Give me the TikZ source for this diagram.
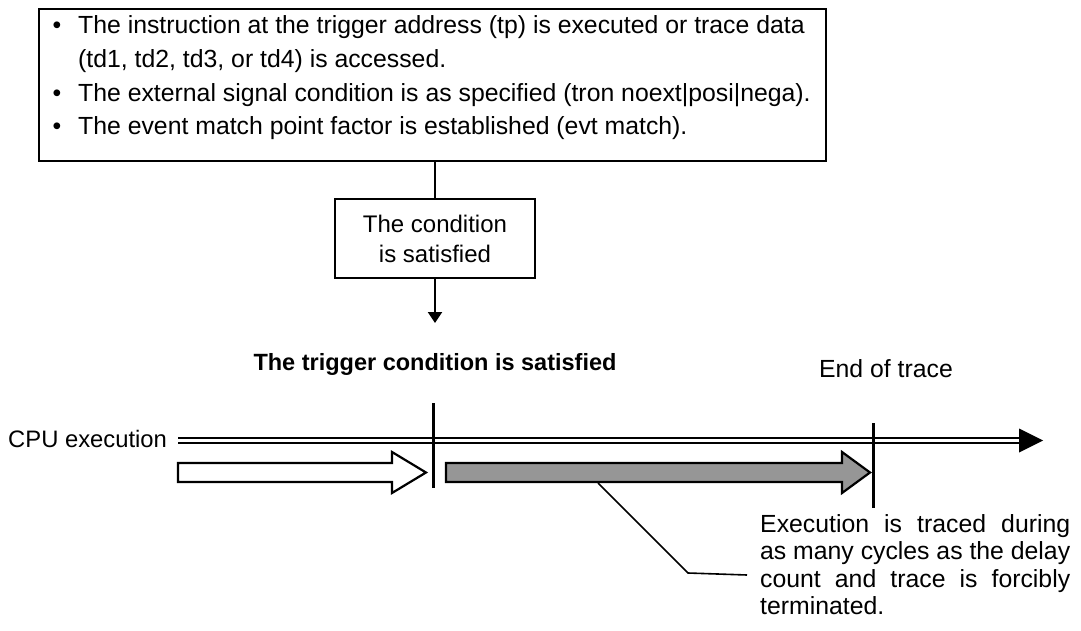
\documentclass[tikz,border=0pt]{standalone}
\usepackage{fontspec}
\setmainfont{Liberation Sans}
\usetikzlibrary{calc,arrows.meta}
\begin{document}
\begin{tikzpicture}[x=1pt,y=-1pt,
  frame/.style={draw,line width=2pt},
  bar/.style={line width=3pt},
  blockarrow/.style={draw,line width=2.2pt,line join=miter},
  txt/.style={inner sep=0pt,anchor=base west,font=\fontsize{24.8}{30}\selectfont},
  dot/.style={inner sep=0pt,anchor=base,font=\fontsize{24.8}{30}\selectfont},
]
\useasboundingbox (0,0) rectangle (1081,631);

% conditions box
\node[frame,anchor=north west,minimum width=787pt,minimum height=152pt,inner sep=0pt] (conds) at (38,8) {};
\node[dot] (b1) at (57,34) {\textbullet};
\node[txt] (c1) at (78,34) {The instruction at the trigger address (tp) is executed or trace data};
\node[txt] (c1b) at (78,68) {(td1, td2, td3, or td4) is accessed.};
\node[dot] (b2) at (57,102) {\textbullet};
\node[txt] (c2) at (78,102) {The external signal condition is as specified (tron noext|posi|nega).};
\node[dot] (b3) at (57,135) {\textbullet};
\node[txt] (c3) at (78,135) {The event match point factor is established (evt match).};

% "condition satisfied" box
\node[frame,minimum width=200pt,minimum height=79pt,align=center,inner sep=0pt,
      font=\fontsize{24}{30}\selectfont] (sat) at (435,238.5) {The condition\\is satisfied};
\draw[line width=2pt] (sat.north) -- (sat.north |- conds.south);
\coordinate (tip) at (435,323);
\draw[line width=2pt,-{Triangle[width=14pt,length=11pt]}] (sat.south) -- (tip);

% titles
\node[inner sep=0pt,anchor=base,font=\bfseries\fontsize{23.5}{29}\selectfont] (trig) at (435,370) {The trigger condition is satisfied};
\node[txt,anchor=base] (endtr) at (886,377) {End of trace};
\node[txt,font=\fontsize{23.8}{29}\selectfont] (cpu) at (8,447) {CPU execution};

% time axis
\coordinate (axs) at (178,440.5);
\coordinate (axe) at (1019,440.5);
\coordinate (axt) at (1043,440.5);
\draw[double,line width=2.6pt,double distance=2.4pt] (axs) -- (axe);
\fill (axe) ++(0,-12) -- (axt) -- ($(axe)+(0,12)$) -- cycle;

% trigger and end markers
\coordinate (m1t) at (433,403); \coordinate (m1b) at (433,488);
\coordinate (m2t) at (873,423); \coordinate (m2b) at (873,508);
\draw[bar] (m1t) -- (m1b);
\draw[bar] (m2t) -- (m2b);

% execution before trigger
\draw[blockarrow,fill=white] (178,463) -- (392,463) -- (392,452) -- (426,472.5)
  -- (392,493) -- (392,482) -- (178,482) -- cycle;
% traced execution after trigger
\draw[blockarrow,fill=black!41] (446,463) -- (842,463) -- (842,452) -- (870,472.5)
  -- (842,493) -- (842,482) -- (446,482) -- cycle;

% note with its leader
\coordinate (lead0) at (598,483);
\coordinate (lead1) at (688,573);
\coordinate (lead2) at (747,575);
\draw[line width=1.6pt] (lead0) -- (lead1) -- (lead2);
\node[txt] (n1) at (760,532) {\makebox[310pt][s]{Execution is traced during}};
\node[txt] (n2) at (760,559.5) {\makebox[310pt][s]{as many cycles as the delay}};
\node[txt] (n3) at (760,587) {\makebox[310pt][s]{count and trace is forcibly}};
\node[txt] (n4) at (760,614.5) {terminated.};
\end{tikzpicture}
\end{document}
